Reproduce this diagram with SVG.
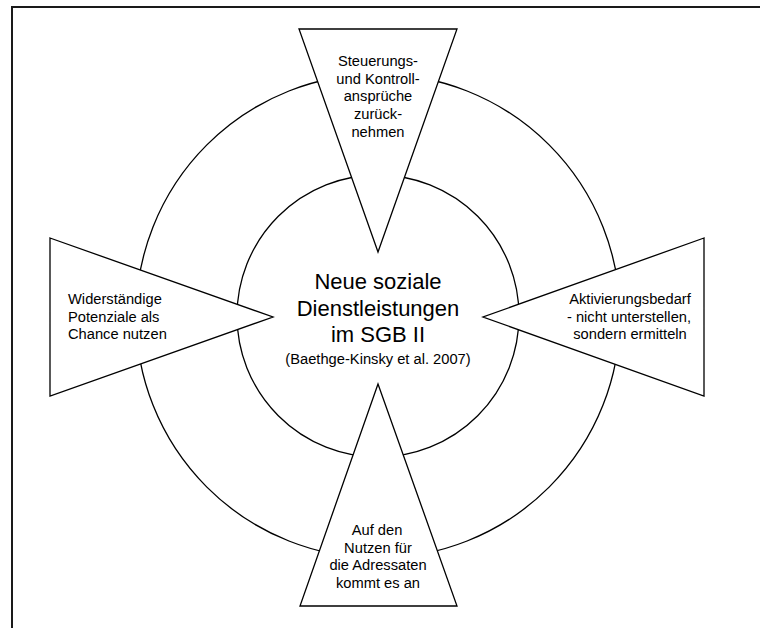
<svg xmlns="http://www.w3.org/2000/svg" width="760" height="628" viewBox="0 0 760 628">
<style>
.ring{fill:none;stroke:#000;stroke-width:1.3}
.tri{fill:#fff;stroke:#000;stroke-width:1.3;stroke-linejoin:miter}
.t{font-family:"Liberation Sans",Arial,sans-serif;font-size:14.7px;fill:#000}
.c{text-anchor:middle}
.big{font-family:"Liberation Sans",Arial,sans-serif;font-size:22px;fill:#000;text-anchor:middle}
</style>
<rect x="0" y="0" width="760" height="628" fill="#fff"/>
<path d="M12,640 V7 H770" fill="none" stroke="#1a1a1a" stroke-width="2"/>
<g id="rings">
<circle class="ring" cx="378" cy="316" r="242"/>
<circle class="ring" cx="378" cy="316" r="141"/>
</g>
<g id="center">
<text class="big" x="378" y="289">Neue soziale</text>
<text class="big" x="378" y="316">Dienstleistungen</text>
<text class="big" x="378" y="342">im SGB II</text>
<text class="t c" x="378" y="364">(Baethge-Kinsky et al. 2007)</text>
</g>
<g id="top">
<polygon class="tri" points="299,29 457,29 378,252"/>
<text class="t c" x="378" y="66">Steuerungs-</text>
<text class="t c" x="378" y="84">und Kontroll-</text>
<text class="t c" x="378" y="101">ansprüche</text>
<text class="t c" x="378" y="119">zurück-</text>
<text class="t c" x="378" y="137">nehmen</text>
</g>
<g id="left">
<polygon class="tri" points="50,238 273,317 50,396"/>
<text class="t" x="68" y="304">Widerständige</text>
<text class="t" x="68" y="321.5">Potenziale als</text>
<text class="t" x="68" y="339">Chance nutzen</text>
</g>
<g id="right">
<polygon class="tri" points="704,238 483,317 704,396"/>
<text class="t c" x="630" y="304">Aktivierungsbedarf</text>
<text class="t c" x="629" y="321.5">- nicht unterstellen,</text>
<text class="t c" x="630" y="339">sondern ermitteln</text>
</g>
<g id="bottom">
<polygon class="tri" points="378,384 457,606 300,606"/>
<text class="t c" x="377" y="535">Auf den</text>
<text class="t c" x="378" y="552.5">Nutzen für</text>
<text class="t c" x="378" y="570">die Adressaten</text>
<text class="t c" x="378" y="587.5">kommt es an</text>
</g>
<g id="connectors"></g>
</svg>
